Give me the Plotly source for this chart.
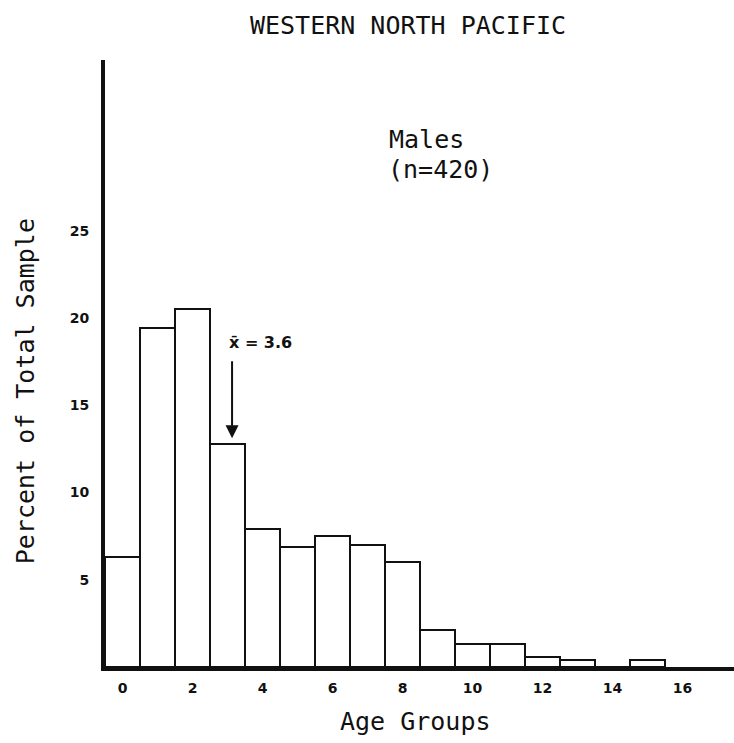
import plotly.graph_objects as go

# ---- data ----
age_groups = list(range(16))
percent = [6.3, 19.4, 20.5, 12.8, 7.9, 6.9, 7.5, 7.0, 6.0, 2.1, 1.3, 1.3, 0.6, 0.4, 0.0, 0.4]
x_tick_vals = [0, 2, 4, 6, 8, 10, 12, 14, 16]
y_tick_vals = [5, 10, 15, 20, 25]
mean_age = 3.6
mean_arrow_x = 3.13

title_text = "WESTERN NORTH PACIFIC"
group_label = "Males"
sample_label = "(n=420)"

MONO = "DejaVu Sans Mono"
BOLD = "DejaVu Sans"
INK = "#111111"

fig = go.Figure()
fig.add_trace(go.Bar(
    x=age_groups, y=percent, width=1.0,
    marker=dict(color="white", line=dict(color=INK, width=2)),
    showlegend=False, hoverinfo="x+y",
))

W, H = 734, 743
L, R, T, B = 105, 0, 60, 76

fig.update_layout(
    width=W, height=H,
    margin=dict(l=L, r=R, t=T, b=B),
    paper_bgcolor="white", plot_bgcolor="white",
    bargap=0,
    title=dict(text=title_text, xref="container", yref="container",
               x=408 / W, y=1 - 25 / H, xanchor="center", yanchor="middle",
               font=dict(family=MONO, size=25, color=INK)),
    xaxis=dict(range=[-0.5, 17.47], showgrid=False, zeroline=False,
               showline=True, linecolor=INK, linewidth=4,
               tickmode="array", tickvals=x_tick_vals,
               ticktext=[str(v) for v in x_tick_vals],
               ticks="", ticklabelstandoff=5,
               tickfont=dict(family=BOLD, size=14, color=INK, weight="bold")),
    yaxis=dict(range=[0, 34.78], showgrid=False, zeroline=False,
               showline=True, linecolor=INK, linewidth=4,
               tickmode="array", tickvals=y_tick_vals,
               ticktext=[str(v) for v in y_tick_vals],
               ticks="", ticklabelstandoff=9,
               tickfont=dict(family=BOLD, size=14, color=INK, weight="bold")),
)

# axis titles as annotations for exact placement
fig.add_annotation(text="Percent of Total Sample", xref="paper", yref="y",
                   x=(25 - L) / (W - L - R), y=15.8, textangle=-90,
                   showarrow=False, xanchor="center", yanchor="middle",
                   font=dict(family=MONO, size=25, color=INK))
fig.add_annotation(text="Age Groups", xref="x", yref="paper",
                   x=(415 - L) / 35 - 0.5, y=(667 - 721) / (H - T - B),
                   showarrow=False, xanchor="center", yanchor="middle",
                   font=dict(family=MONO, size=25, color=INK))

# group label
fig.add_annotation(text=group_label, xref="x", yref="y",
                   x=(387 - L) / 35 - 0.5, y=(667 - 140) / 17.45,
                   showarrow=False, xanchor="left", yanchor="middle",
                   font=dict(family=MONO, size=25, color=INK))
fig.add_annotation(text=sample_label, xref="x", yref="y",
                   x=(386 - L) / 35 - 0.5, y=(667 - 170) / 17.45,
                   showarrow=False, xanchor="left", yanchor="middle",
                   font=dict(family=MONO, size=25, color=INK))

# mean marker
fig.add_annotation(text="", xref="x", yref="y", axref="x", ayref="y",
                   x=mean_arrow_x, y=percent[3] + 0.3,
                   ax=mean_arrow_x, ay=17.6,
                   showarrow=True, arrowhead=2, arrowsize=1.3, arrowwidth=2,
                   arrowcolor=INK)
fig.add_annotation(text="x\u0304 = " + str(mean_age), xref="x", yref="y",
                   x=(227 - L) / 35 - 0.5, y=(667 - 343) / 17.45,
                   showarrow=False, xanchor="left", yanchor="middle",
                   font=dict(family=BOLD, size=16, color=INK, weight="bold"))

fig.write_html("out.html")
